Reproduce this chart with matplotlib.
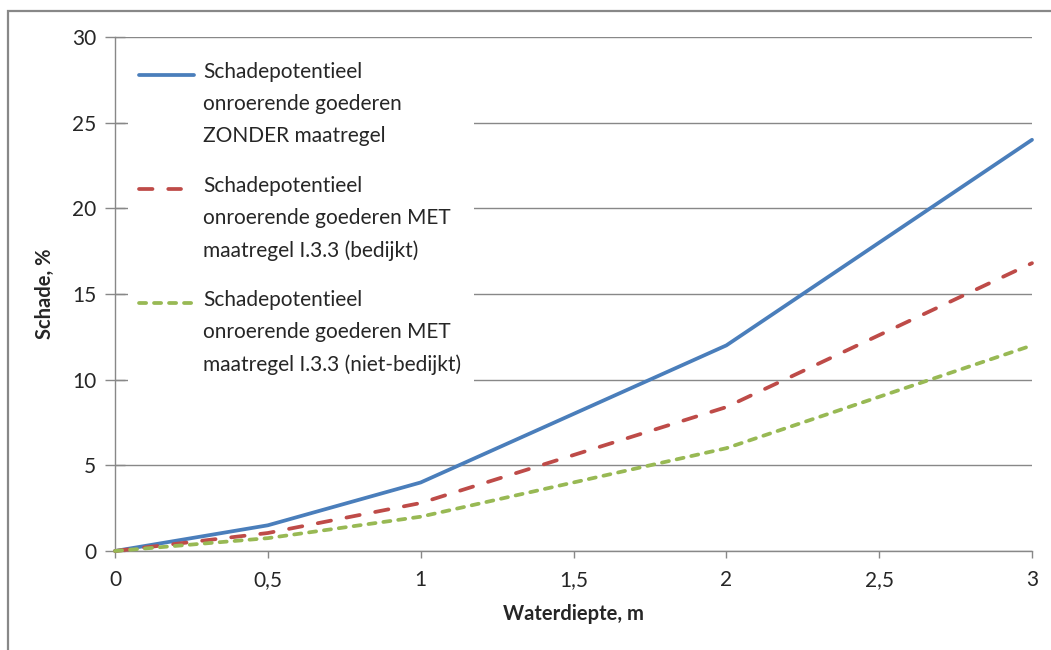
import matplotlib.pyplot as plt
from matplotlib.lines import Line2D
from matplotlib.patches import Rectangle
from matplotlib.ticker import FuncFormatter, MultipleLocator

# waterdiepte (m) en schadepercentages per scenario
diepte = [0, 0.5, 1, 2, 3]
zonder = [0, 1.5, 4, 12, 24]
met_bedijkt = [0, 1.05, 2.8, 8.4, 16.8]
met_niet_bedijkt = [0, 0.75, 2, 6, 12]

labels = [
    "Schadepotentieel\nonroerende goederen\nZONDER maatregel",
    "Schadepotentieel\nonroerende goederen MET\nmaatregel I.3.3 (bedijkt)",
    "Schadepotentieel\nonroerende goederen MET\nmaatregel I.3.3 (niet-bedijkt)",
]

plt.rcParams["font.family"] = ["Lato", "DejaVu Sans"]
txt = "#262626"
grey = "#888888"

fig = plt.figure(figsize=(10.51, 6.5), dpi=100)
ax = fig.add_axes([115 / 1051, 1 - 551 / 650, (1032 - 115) / 1051, (551 - 37) / 650])

lw = 2.7
styles = [
    dict(color="#4A7EBB", linestyle="-"),
    dict(color="#BE4B48", linestyle=(0, (3.6, 4.2))),
    dict(color="#98B954", linestyle=(0, (1.9, 2.1))),
]
series = [zonder, met_bedijkt, met_niet_bedijkt]
for ys, st in zip(series, styles):
    ax.plot(diepte, ys, lw=lw, solid_capstyle="round", dash_capstyle="round",
            zorder=3, clip_on=False, **st)

ax.set_xlim(0, 3)
ax.set_ylim(0, 30)
ax.xaxis.set_major_locator(MultipleLocator(0.5))
ax.yaxis.set_major_locator(MultipleLocator(5))
ax.xaxis.set_major_formatter(FuncFormatter(lambda v, p: f"{v:g}".replace(".", ",")))
ax.grid(axis="y", color=grey, lw=1.0, zorder=0)
ax.set_axisbelow(True)

for s in ["top", "right"]:
    ax.spines[s].set_visible(False)
for s in ["left", "bottom"]:
    ax.spines[s].set_color(grey)
    ax.spines[s].set_linewidth(1.0)

ax.tick_params(axis="y", direction="inout", length=15, width=1, color=grey,
               labelsize=15, labelcolor=txt, pad=6)
ax.tick_params(axis="x", direction="out", length=5, width=1, color=grey,
               labelsize=15, labelcolor=txt, pad=9)

ax.set_xlabel("Waterdiepte, m", fontsize=14.5, fontweight="bold", color=txt, labelpad=10)
ax.set_ylabel("Schade, %", fontsize=14.5, fontweight="bold", color=txt, labelpad=12)

# legenda met witte achtergrond, lijnstuk naast de eerste regel van elk label
ax.add_patch(Rectangle((0.014, 0.30), 0.377, 0.68, transform=ax.transAxes,
                       facecolor="white", edgecolor="none", zorder=2))
top = 0.926
step = 114 / 514
handle_x = [[0.026, 0.086], [0.026, 0.072], [0.026, 0.088]]
for i, (lab, st) in enumerate(zip(labels, styles)):
    y = top - i * step
    ax.add_line(Line2D(handle_x[i], [y, y], transform=ax.transAxes, lw=lw,
                       solid_capstyle="round", dash_capstyle="round", zorder=4, **st))
    ax.text(0.096, y + 0.026, lab, transform=ax.transAxes, fontsize=15, color=txt,
            va="top", ha="left", linespacing=1.75, zorder=4)

# rand van het grafiekgebied
fig.add_artist(Rectangle((8 / 1051, -0.1), 1.2, 1 - 11 / 650 + 0.1,
                         transform=fig.transFigure, facecolor="none",
                         edgecolor=grey, lw=1.6))

fig.savefig("out.png", dpi=100)
